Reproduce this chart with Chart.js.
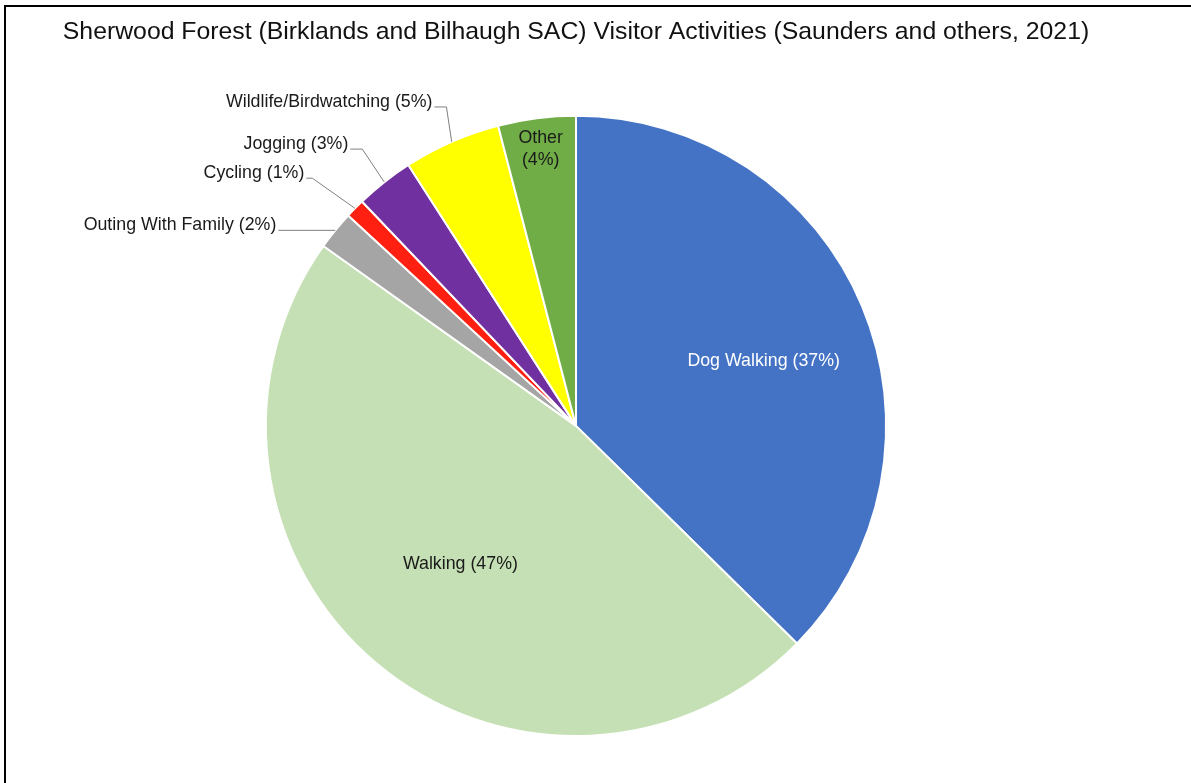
<!DOCTYPE html>
<html>
<head>
<meta charset="utf-8">
<title>Sherwood Forest visitor activities</title>
<script src="https://cdn.jsdelivr.net/npm/chart.js@4.4.1/dist/chart.umd.min.js"></script>
<style>
    html, body { margin: 0; padding: 0; background: #fff; }
    #wrap { position: relative; width: 1191px; height: 783px; overflow: hidden; }
    #frame {
        position: absolute; left: 4px; top: 5px; right: -4px; bottom: -4px;
        border-top: 2px solid #000; border-left: 2px solid #000;
        pointer-events: none;
    }
</style>
</head>
<body>
<div id="wrap">
    <canvas id="pie" width="1191" height="783"></canvas>
    <div id="frame"></div>
</div>
<script>
(function () {
    'use strict';

    var chartTitle = 'Sherwood Forest (Birklands and Bilhaugh SAC) Visitor Activities (Saunders and others, 2021)';
    var activities = ['Dog Walking', 'Walking', 'Outing With Family', 'Cycling', 'Jogging', 'Wildlife/Birdwatching', 'Other'];
    var shares = [37, 47, 2, 1, 3, 5, 4];
    var sliceColors = ['#4472C4', '#C5E0B4', '#A5A5A5', '#FF2011', '#7030A0', '#FFFF00', '#70AD47'];

    var FONT = '"Liberation Sans", Arial, Helvetica, sans-serif';

    /* ---- label placement: inside labels or callouts with leader lines ---- */
    var labelStyle = {
        'Dog Walking':           { inside: true, r: 0.64, turn: 3.7, color: '#ffffff' },
        'Walking':               { inside: true, r: 0.58, turn: 0, color: '#1a1a1a' },
        'Other':                 { inside: true, r: 0.9, turn: 0, color: '#1a1a1a', wrap: true },
        'Outing With Family':    { elbow: 0, shift: 0, arm: 57 },
        'Cycling':               { elbow: 43, shift: -12, arm: 6 },
        'Jogging':               { elbow: 42, shift: 4, arm: 12 },
        'Wildlife/Birdwatching': { elbow: 38, shift: 10, arm: 12 }
    };

    var sliceLabels = {
        id: 'sliceLabels',
        afterDatasetsDraw: function (chart) {
            var ctx = chart.ctx;
            var meta = chart.getDatasetMeta(0);
            ctx.save();
            ctx.font = '17.8px ' + FONT;
            meta.data.forEach(function (arc, i) {
                var name = activities[i];
                var st = labelStyle[name];
                var pct = '(' + shares[i] + '%)';
                var mid = (arc.startAngle + arc.endAngle) / 2;
                var R = arc.outerRadius;

                if (st.inside) {
                    var a = mid + st.turn * Math.PI / 180;
                    var x = arc.x + Math.cos(a) * R * st.r;
                    var y = arc.y + Math.sin(a) * R * st.r;
                    ctx.fillStyle = st.color;
                    ctx.textAlign = 'center';
                    ctx.textBaseline = 'middle';
                    if (st.wrap) {
                        ctx.fillText(name, x, y - 11);
                        ctx.fillText(pct, x, y + 11);
                    } else {
                        ctx.fillText(name + ' ' + pct, x, y);
                    }
                    return;
                }

                // leader: slice edge -> elbow -> short horizontal arm -> text
                var px = arc.x + Math.cos(mid) * R;
                var py = arc.y + Math.sin(mid) * R;
                var ex = arc.x + Math.cos(mid) * (R + st.elbow) + st.shift;
                var ey = arc.y + Math.sin(mid) * (R + st.elbow);
                var hx = ex - st.arm;

                ctx.strokeStyle = '#7f7f7f';
                ctx.lineWidth = 1;
                ctx.beginPath();
                ctx.moveTo(px, py);
                ctx.lineTo(ex, ey);
                ctx.lineTo(hx, ey);
                ctx.stroke();

                ctx.fillStyle = '#1a1a1a';
                ctx.textAlign = 'right';
                ctx.textBaseline = 'middle';
                ctx.fillText(name + ' ' + pct, hx - 2, ey - 5);
            });
            ctx.restore();
        }
    };

    new Chart(document.getElementById('pie'), {
        type: 'pie',
        data: {
            labels: activities,
            datasets: [{
                data: shares,
                backgroundColor: sliceColors,
                borderColor: '#ffffff',
                borderWidth: 2
            }]
        },
        options: {
            responsive: false,
            animation: false,
            layout: { padding: { top: 0, bottom: 46, left: 0, right: 39 } },
            plugins: {
                legend: { display: false },
                tooltip: { enabled: false },
                title: {
                    display: true,
                    text: chartTitle,
                    color: '#111',
                    font: { family: FONT, size: 24.8, weight: 'normal' },
                    padding: { top: 17, bottom: 68 }
                }
            }
        },
        plugins: [sliceLabels]
    });
})();
</script>
</body>
</html>
